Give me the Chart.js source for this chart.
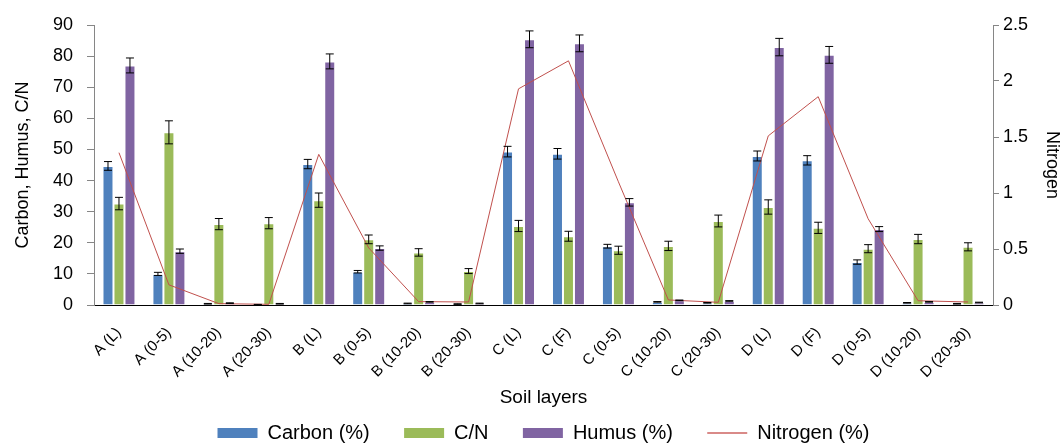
<!DOCTYPE html>
<html>
<head>
<meta charset="utf-8">
<title>Soil layers</title>
<script src="https://cdn.jsdelivr.net/npm/chart.js@4.4.1/dist/chart.umd.min.js"></script>
<style>
    html, body { margin: 0; padding: 0; background: #ffffff; }
    #wrap { width: 1064px; height: 443px; position: relative; }
</style>
</head>
<body>
<div id="wrap"><canvas id="soil-chart" width="1064" height="443"></canvas></div>
<script>
// Soil layer data
const layers = ['A (L)', 'A (0-5)', 'A (10-20)', 'A (20-30)', 'B (L)', 'B (0-5)', 'B (10-20)', 'B (20-30)',
    'C (L)', 'C (F)', 'C (0-5)', 'C (10-20)', 'C (20-30)', 'D (L)', 'D (F)', 'D (0-5)', 'D (10-20)', 'D (20-30)'];

const carbon = [44.7, 10.0, 0.4, 0.1, 45.3, 10.7, 0.5, 0.3, 49.3, 48.6, 18.9, 1.0, 0.7, 47.9, 46.5, 13.8, 0.7, 0.4];
const carbonErr = [1.4, 0.5, 0.1, 0.1, 1.5, 0.4, 0.1, 0.1, 1.7, 1.7, 0.6, 0.1, 0.1, 1.6, 1.5, 0.7, 0.1, 0.1];

const cn = [32.6, 55.5, 26.0, 26.3, 33.7, 21.1, 16.9, 10.9, 25.4, 22.1, 17.6, 19.0, 27.0, 31.5, 24.8, 18.1, 21.2, 18.7];
const cnErr = [2.0, 3.7, 1.8, 1.8, 2.3, 1.4, 1.2, 0.8, 1.8, 1.6, 1.3, 1.5, 1.9, 2.3, 1.8, 1.3, 1.5, 1.3];

const humus = [77.0, 17.3, 0.6, 0.4, 78.3, 18.3, 1.0, 0.5, 85.4, 84.1, 33.0, 1.5, 1.3, 82.9, 80.4, 24.4, 1.0, 0.8];
const humusErr = [2.4, 0.7, 0.1, 0.1, 2.4, 0.7, 0.1, 0.1, 2.7, 2.7, 1.2, 0.1, 0.1, 2.8, 2.7, 0.8, 0.1, 0.1];

const nitrogen = [1.36, 0.18, 0.012, 0.006, 1.345, 0.51, 0.03, 0.027, 1.93, 2.18, 1.1, 0.045, 0.024, 1.51, 1.86, 0.77, 0.038, 0.027];

const leftTicks = [0, 10, 20, 30, 40, 50, 60, 70, 80, 90];
const rightTicks = [0, 0.5, 1, 1.5, 2, 2.5];

const FONT = 'Liberation Sans, Arial, sans-serif';
const GAP = '      '; // spacing between legend entries

// Draws the +/- error whiskers on top of each bar
const errorBars = {
    id: 'errorBars',
    afterDatasetsDraw(chart) {
        const ctx = chart.ctx;
        const yScale = chart.scales.y;
        chart.data.datasets.forEach((ds, i) => {
            if (!ds.errors) return;
            const meta = chart.getDatasetMeta(i);
            meta.data.forEach((bar, j) => {
                const v = ds.data[j];
                const e = ds.errors[j];
                const top = yScale.getPixelForValue(v + e);
                const bottom = yScale.getPixelForValue(Math.max(v - e, 0));
                ctx.save();
                ctx.strokeStyle = '#000000';
                ctx.lineWidth = 1;
                ctx.beginPath();
                ctx.moveTo(bar.x, top);
                ctx.lineTo(bar.x, bottom);
                ctx.moveTo(bar.x - 4, top);
                ctx.lineTo(bar.x + 4, top);
                ctx.moveTo(bar.x - 4, bottom);
                ctx.lineTo(bar.x + 4, bottom);
                ctx.stroke();
                ctx.restore();
            });
        });
    }
};

const ctx = document.getElementById('soil-chart').getContext('2d');
new Chart(ctx, {
    type: 'bar',
    data: {
        labels: layers,
        datasets: [
            {
                label: 'Carbon (%)' + GAP,
                data: carbon,
                errors: carbonErr,
                backgroundColor: '#4F81BD',
                borderColor: 'rgba(255,255,255,0.35)',
                borderWidth: 1,
                yAxisID: 'y',
                order: 2
            },
            {
                label: 'C/N' + GAP,
                data: cn,
                errors: cnErr,
                backgroundColor: '#9BBB59',
                borderColor: 'rgba(255,255,255,0.35)',
                borderWidth: 1,
                yAxisID: 'y',
                order: 2
            },
            {
                label: 'Humus (%)' + GAP,
                data: humus,
                errors: humusErr,
                backgroundColor: '#8064A2',
                borderColor: 'rgba(255,255,255,0.35)',
                borderWidth: 1,
                yAxisID: 'y',
                order: 2
            },
            {
                type: 'line',
                label: 'Nitrogen (%)',
                data: nitrogen,
                borderColor: '#C0504D',
                backgroundColor: '#C0504D',
                borderWidth: 1,
                pointRadius: 0,
                tension: 0,
                fill: false,
                yAxisID: 'y1',
                order: 1
            }
        ]
    },
    options: {
        responsive: false,
        animation: false,
        devicePixelRatio: 1,
        // negative bottom padding pulls the legend down toward the canvas edge
        layout: { autoPadding: false, padding: { top: 25, left: 0, right: 0, bottom: -10 } },
        datasets: {
            bar: { categoryPercentage: 0.66, barPercentage: 1.0 }
        },
        plugins: {
            legend: {
                position: 'bottom',
                fullSize: false,
                labels: {
                    color: '#000000',
                    font: { family: FONT, size: 20 },
                    usePointStyle: true,
                    pointStyleWidth: 40,
                    boxHeight: 10,
                    padding: 1,
                    sort: (a, b) => a.datasetIndex - b.datasetIndex,
                    generateLabels(chart) {
                        const items = Chart.defaults.plugins.legend.labels.generateLabels(chart);
                        items.forEach(item => {
                            const ds = chart.data.datasets[item.datasetIndex];
                            if (ds.type === 'line') {
                                item.pointStyle = 'line';
                                item.lineWidth = 2;
                                item.strokeStyle = '#D98A88';
                            } else {
                                item.pointStyle = 'rect';
                                item.lineWidth = 0;
                            }
                        });
                        return items;
                    }
                }
            },
            tooltip: { enabled: false }
        },
        scales: {
            x: {
                grid: { display: false },
                border: { display: true, color: '#000000', width: 1 },
                ticks: {
                    color: '#000000',
                    font: { family: FONT, size: 15 },
                    minRotation: 45,
                    maxRotation: 45,
                    autoSkip: false,
                    padding: 11
                },
                title: {
                    display: true,
                    text: 'Soil layers',
                    color: '#000000',
                    font: { family: FONT, size: 19 },
                    padding: { top: 0, bottom: 13 }
                },
                afterFit(scale) { scale.height = 117; }
            },
            y: {
                position: 'left',
                min: 0,
                max: 90,
                grid: { display: true, drawOnChartArea: false, drawTicks: true, tickLength: 7, color: '#868686' },
                border: { display: true, color: '#868686', width: 1 },
                ticks: {
                    color: '#000000',
                    font: { family: FONT, size: 18 },
                    padding: 14,
                    callback: v => String(v)
                },
                afterBuildTicks(scale) { scale.ticks = leftTicks.map(v => ({ value: v })); },
                title: {
                    display: true,
                    text: 'Carbon, Humus, C/N',
                    color: '#000000',
                    font: { family: FONT, size: 18 },
                    padding: { top: 12, bottom: 0 }
                },
                afterFit(scale) { scale.width = 94; }
            },
            y1: {
                position: 'right',
                min: 0,
                max: 2.5,
                grid: { display: true, drawOnChartArea: false, drawTicks: true, tickLength: 6, color: '#868686' },
                border: { display: true, color: '#868686', width: 1 },
                ticks: {
                    color: '#000000',
                    font: { family: FONT, size: 18 },
                    padding: 4,
                    callback: v => String(v)
                },
                afterBuildTicks(scale) { scale.ticks = rightTicks.map(v => ({ value: v })); },
                title: {
                    display: true,
                    text: 'Nitrogen',
                    color: '#000000',
                    font: { family: FONT, size: 18 },
                    padding: { top: 1, bottom: 0 }
                },
                afterFit(scale) { scale.width = 71; }
            }
        }
    },
    plugins: [errorBars]
});
</script>
</body>
</html>
